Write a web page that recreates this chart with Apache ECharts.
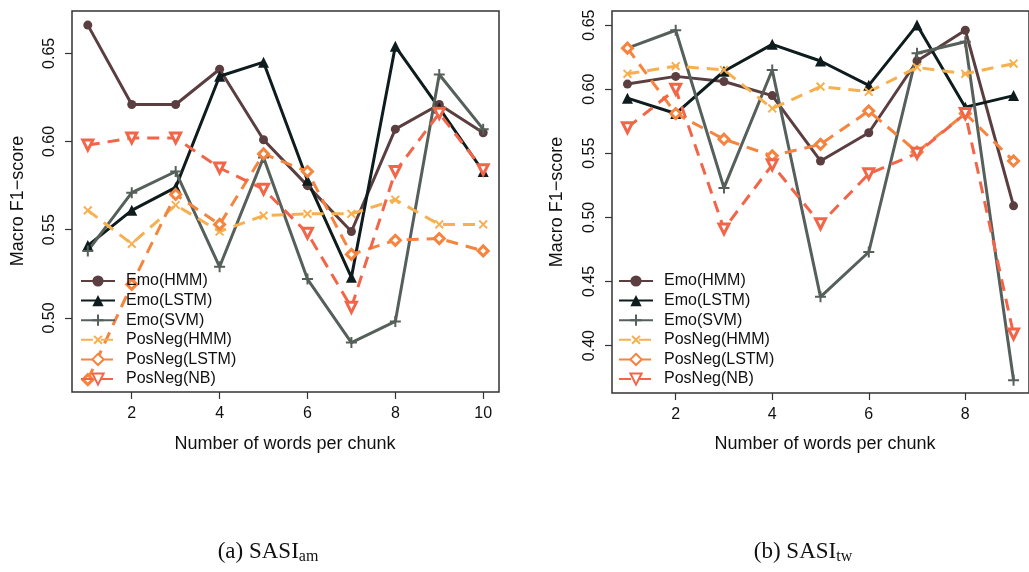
<!DOCTYPE html>
<html>
<head>
<meta charset="utf-8">
<script src="https://cdn.jsdelivr.net/npm/echarts@6/dist/echarts.min.js"></script>
<style>
  html, body { margin: 0; padding: 0; background: #fff; }
  #chart { width: 1029px; height: 572px; }
</style>
</head>
<body>
<div id="chart"></div>
<script>
// chunk sizes (x)
const chunksA = [1, 2, 3, 4, 5, 6, 7, 8, 9, 10]
const chunksB = [1, 2, 3, 4, 5, 6, 7, 8, 9]

// (a) SASI_am
const emoHmmA = [0.666, 0.621, 0.621, 0.641, 0.601, 0.575, 0.549, 0.607, 0.621, 0.605]
const emoLstmA = [0.541, 0.561, 0.574, 0.637, 0.645, 0.578, 0.523, 0.654, 0.619, 0.583]
const emoSvmA = [0.538, 0.571, 0.583, 0.529, 0.591, 0.522, 0.486, 0.498, 0.638, 0.607]
const posHmmA = [0.561, 0.542, 0.564, 0.549, 0.558, 0.559, 0.559, 0.567, 0.553, 0.553]
const posLstmA = [0.465, 0.519, 0.570, 0.553, 0.593, 0.583, 0.536, 0.544, 0.545, 0.538]
const posNbA = [0.598, 0.602, 0.602, 0.585, 0.573, 0.548, 0.506, 0.583, 0.616, 0.584]

// (b) SASI_tw
const emoHmmB = [0.604, 0.610, 0.606, 0.595, 0.544, 0.566, 0.622, 0.646, 0.509]
const emoLstmB = [0.593, 0.581, 0.614, 0.635, 0.622, 0.603, 0.650, 0.586, 0.595]
const emoSvmB = [0.632, 0.646, 0.523, 0.615, 0.438, 0.473, 0.628, 0.637, 0.373]
const posHmmB = [0.612, 0.618, 0.615, 0.585, 0.602, 0.598, 0.617, 0.612, 0.620]
const posLstmB = [0.632, 0.581, 0.561, 0.548, 0.557, 0.583, 0.551, 0.581, 0.544]
const posNbB = [0.570, 0.600, 0.491, 0.541, 0.495, 0.534, 0.550, 0.581, 0.409]

const seriesNames = ['Emo(HMM)', 'Emo(LSTM)', 'Emo(SVM)', 'PosNeg(HMM)', 'PosNeg(LSTM)', 'PosNeg(NB)']

// tick labels
const xTicksA = [2, 4, 6, 8, 10]
const xTicksB = [2, 4, 6, 8]
const yTicksA = [0.50, 0.55, 0.60, 0.65]
const yTicksB = [0.40, 0.45, 0.50, 0.55, 0.60, 0.65]

const PLUS = 'path://M4.1,0H5.9V4.1H10V5.9H5.9V10H4.1V5.9H0V4.1H4.1Z'
const DOWN_TRI = 'path://M0,0H10L5,8.7Z'

const styles = [
  { color: '#5b3f40', symbol: 'circle', size: 9, dashed: false },
  { color: '#0e1c1e', symbol: 'triangle', size: 11, dashed: false },
  { color: '#56605a', symbol: PLUS, size: 11, dashed: false },
  { color: '#f6b04f', symbol: PLUS, size: 11, rotate: 45, dashed: true },
  { color: '#f4843e', symbol: 'diamond', size: 10, hollow: true, dashed: true },
  { color: '#f36549', symbol: DOWN_TRI, size: 10, hollow: true, dashed: true }
]

const font = '"Liberation Sans", Arial, sans-serif'
const serif = '"Liberation Serif", serif'

function makeSeries(xs, lists, idx) {
  return lists.map((vals, i) => {
    const s = styles[i]
    return {
      name: seriesNames[i],
      type: 'line',
      xAxisIndex: idx,
      yAxisIndex: idx,
      data: xs.map((x, j) => [x, vals[j]]),
      symbol: s.symbol,
      symbolSize: s.size,
      symbolRotate: s.rotate || 0,
      showAllSymbol: true,
      animation: false,
      lineStyle: { color: s.color, width: 3, type: s.dashed ? [12, 8] : 'solid' },
      itemStyle: s.hollow
        ? { color: '#fff', borderColor: s.color, borderWidth: 3 }
        : { color: s.color, borderWidth: 0 }
    }
  })
}

function xAxis(idx, min, max, ticks) {
  return {
    type: 'value', gridIndex: idx, min, max,
    axisLine: { show: false },
    axisTick: { show: true, length: 7, customValues: ticks, lineStyle: { color: '#333', width: 1.2 } },
    axisLabel: { customValues: ticks, margin: 14, color: '#111', fontSize: 16, fontFamily: font },
    splitLine: { show: false }
  }
}

function yAxis(idx, min, max, ticks) {
  return {
    type: 'value', gridIndex: idx, min, max,
    axisLine: { show: false },
    axisTick: { show: true, length: 7, customValues: ticks, lineStyle: { color: '#333', width: 1.2 } },
    axisLabel: {
      customValues: ticks, rotate: 90, margin: 14, color: '#111', fontSize: 16, fontFamily: font,
      formatter: v => v.toFixed(2)
    },
    splitLine: { show: false }
  }
}

function legend(left) {
  return {
    data: seriesNames,
    orient: 'vertical',
    left, top: 268,
    itemWidth: 34, itemHeight: 14, itemGap: 3.6,
    textStyle: { fontSize: 16, fontFamily: font, color: '#111', padding: [0, 0, 0, 6] }
  }
}

function caption(x, label, sub) {
  return {
    type: 'text', x, y: 552,
    style: {
      text: `{m|${label}}{s|${sub}}`, align: 'center', verticalAlign: 'middle',
      rich: {
        m: { fontSize: 23, fontFamily: serif, fill: '#111', lineHeight: 26 },
        s: { fontSize: 16, fontFamily: serif, fill: '#111', verticalAlign: 'bottom', lineHeight: 14 }
      }
    }
  }
}

function title(x, y, text, rotated) {
  return {
    type: 'text', x, y, rotation: rotated ? Math.PI / 2 : 0,
    style: { text, fontSize: 18, fontFamily: font, fill: '#111', align: 'center', verticalAlign: 'middle' }
  }
}

const chart = echarts.init(document.getElementById('chart'))

chart.setOption({
  backgroundColor: '#fff',
  animation: false,
  grid: [
    { left: 72, top: 11, width: 427, height: 381, show: true, borderColor: '#333', borderWidth: 1.5 },
    { left: 612, top: 11, width: 425, height: 382, show: true, borderColor: '#333', borderWidth: 1.5 }
  ],
  xAxis: [xAxis(0, 0.64, 10.36, xTicksA), xAxis(1, 0.68, 9.32, xTicksB)],
  yAxis: [yAxis(0, 0.458, 0.674, yTicksA), yAxis(1, 0.363, 0.661, yTicksB)],
  legend: [
    { ...legend(75), id: 'la' },
    { ...legend(613), id: 'lb' }
  ],
  series: [
    ...makeSeries(chunksA, [emoHmmA, emoLstmA, emoSvmA, posHmmA, posLstmA, posNbA], 0),
    ...makeSeries(chunksB, [emoHmmB, emoLstmB, emoSvmB, posHmmB, posLstmB, posNbB], 1)
  ],
  graphic: [
    title(18, 201, 'Macro F1\u2212score', true),
    title(557, 202, 'Macro F1\u2212score', true),
    title(285, 444, 'Number of words per chunk'),
    title(825, 444, 'Number of words per chunk'),
    caption(268, '(a) SASI', 'am'),
    caption(803, '(b) SASI', 'tw')
  ]
})
</script>
</body>
</html>
